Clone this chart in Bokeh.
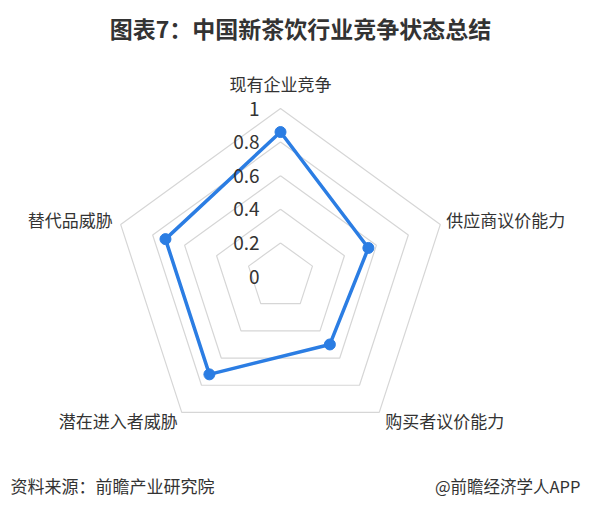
import numpy as np
from bokeh.plotting import figure
from bokeh.models import Range1d
from bokeh.core.properties import value
from bokeh.embed import file_html
from bokeh.resources import INLINE

# ---- data ----
indicators = ["现有企业竞争", "供应商议价能力", "购买者议价能力", "潜在进入者威胁", "替代品威胁"]
scores = [0.86, 0.55, 0.5, 0.72, 0.72]
ring_levels = [0.2, 0.4, 0.6, 0.8, 1.0]
tick_labels = ["0", "0.2", "0.4", "0.6", "0.8", "1"]
tick_values = [0, 0.2, 0.4, 0.6, 0.8, 1.0]
title_text = "图表7：中国新茶饮行业竞争状态总结"
source_text = "资料来源：前瞻产业研究院"
brand_text = "@前瞻经济学人APP"

FONT = "Noto Sans CJK SC"
W, H = 584, 499
p = figure(width=W, height=H, output_backend="svg", toolbar_location=None,
           x_range=Range1d(0, W), y_range=Range1d(H, 0),
           min_border=0, outline_line_color=None)
p.axis.visible = False
p.grid.visible = False
p.background_fill_color = "white"

cx, cy, R = 280.0, 276.0, 168.0
n = len(indicators)
ang = np.deg2rad(90 - 72 * np.arange(n))

def pts(vals):
    v = np.asarray(vals, dtype=float)
    return cx + R * v * np.cos(ang), cy - R * v * np.sin(ang)

# grid rings
for lv in ring_levels:
    x, y = pts([lv] * n)
    p.line(list(x) + [x[0]], list(y) + [y[0]], line_color="#d6d6d6", line_width=1.2)

# series
sx, sy = pts(scores)
p.line(list(sx) + [sx[0]], list(sy) + [sy[0]], line_color="#2b7de3", line_width=3.5,
       line_join="round")
p.scatter(sx, sy, size=11, fill_color="#2b7de3", line_color="#2b7de3")

# tick labels
p.text(x=[259] * len(tick_values), y=[cy - R * t for t in tick_values], text=tick_labels,
       text_font=value(FONT), text_font_size="19px", text_color="#333333",
       text_align="right", text_baseline="middle")

# indicator labels
vx, vy = pts([1.0] * n)
offs = [(0, -25, "center"), (6, -5, "left"), (6, 8, "left"), (-4, 8, "right"), (-8, -5, "right")]
for i, name in enumerate(indicators):
    dx, dy, al = offs[i]
    p.text(x=[vx[i] + dx], y=[vy[i] + dy], text=[name], text_font=value(FONT),
           text_font_size="17px", text_color="#333333", text_align=al,
           text_baseline="middle")

# title & footer
p.text(x=[300], y=[27], text=[title_text], text_font=value(FONT), text_font_size="23px",
       text_font_style="bold", text_color="#333333", text_align="center",
       text_baseline="middle")
p.text(x=[10], y=[485], text=[source_text], text_font=value(FONT), text_font_size="17px",
       text_color="#333333", text_align="left", text_baseline="middle")
p.text(x=[580], y=[485], text=[brand_text], text_font=value(FONT), text_font_size="16.5px",
       text_color="#333333", text_align="right", text_baseline="middle")

open("out.html", "w").write(file_html(p, INLINE))
